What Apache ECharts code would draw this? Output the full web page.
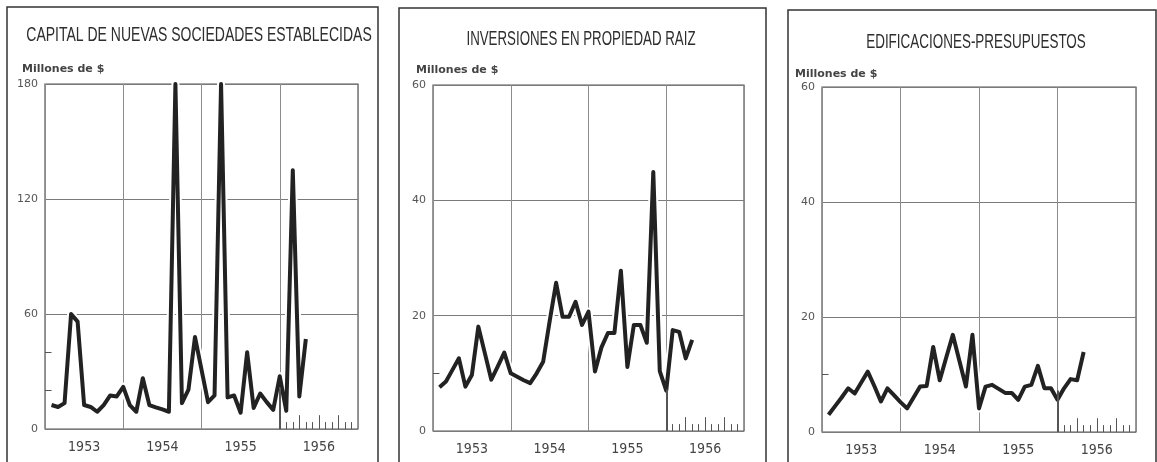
<!DOCTYPE html>
<html>
<head>
<meta charset="utf-8">
<title>Capital, inversiones y edificaciones 1953-1956</title>
<script src="https://cdn.jsdelivr.net/npm/echarts@6/dist/echarts.min.js"></script>
<style>
html, body { margin: 0; padding: 0; background: #fff; }
#chart { width: 1157px; height: 462px; }
</style>
</head>
<body>
<div id="chart"></div>
<script>
// años del eje x
const years = ['1953', '1954', '1955', '1956'];

// meses con dato (fin de mes)
const months = [
    '1953-01', '1953-02', '1953-03', '1953-04', '1953-05', '1953-06', '1953-07', '1953-08', '1953-09', '1953-10', '1953-11', '1953-12',
    '1954-01', '1954-02', '1954-03', '1954-04', '1954-05', '1954-06', '1954-07', '1954-08', '1954-09', '1954-10', '1954-11', '1954-12',
    '1955-01', '1955-02', '1955-03', '1955-04', '1955-05', '1955-06', '1955-07', '1955-08', '1955-09', '1955-10', '1955-11', '1955-12',
    '1956-01', '1956-02', '1956-03', '1956-04'
];

// Millones de $
const capital = [
    12.5, 11.5, 13.5, 60, 56, 12.5, 11.5, 9, 12.5, 17.5, 17, 22,
    12.5, 9, 26.5, 12.5, 11.3, 10.2, 9, 180, 13.5, 20.5, 48, 31,
    14, 17.5, 180, 16.5, 17.5, 8.5, 40, 11, 18.5, 14, 10, 27.5,
    9.5, 135, 17, 47
];
const inversiones = [
    7.6, 8.6, 10.6, 12.6, 7.7, 9.7, 18.1, 13.5, 8.9, 11.2, 13.6, 10.0,
    9.4, 8.8, 8.3, 10.0, 12.0, 19.0, 25.7, 19.8, 19.8, 22.4, 18.4, 20.7,
    10.3, 14.5, 17, 17, 27.8, 11.1, 18.4, 18.4, 15.3, 44.9, 10.4, 7.0,
    17.5, 17.2, 12.6, 15.8
];
const edificaciones = [
    3.0, 4.5, 6.0, 7.6, 6.7, 8.6, 10.5, 8.0, 5.3, 7.6, 6.4, 5.2,
    4.1, 6.0, 7.9, 8.0, 14.8, 9.0, 13.0, 16.9, 12.4, 7.9, 16.9, 4.1,
    7.9, 8.2, 7.5, 6.8, 6.8, 5.6, 7.9, 8.2, 11.5, 7.6, 7.6, 5.6,
    7.6, 9.2, 9.0, 13.9
];

const titles = ['CAPITAL DE NUEVAS SOCIEDADES ESTABLECIDAS', 'INVERSIONES EN PROPIEDAD RAIZ', 'EDIFICACIONES-PRESUPUESTOS'];
const yMax = [180, 60, 60];
const yStep = [60, 20, 20];
const yMinor = [[20, 40], [10], [10]];

const grids = [
    { left: 45, top: 84, width: 313, height: 345 },
    { left: 433, top: 85, width: 311, height: 346 },
    { left: 822, top: 87, width: 314, height: 345 }
];
const boxes = [[7, 7, 371], [399, 8, 367], [788, 10, 368]];
const titlePos = [[199, 35], [581, 39], [976, 42]];
const titleScale = [0.70, 0.665, 0.673];
const unitPos = [[17, 59], [411, 60], [790, 64]];

function monthPos(label) {
    const p = label.split('-').map(Number);
    return (p[0] - 1953) * 12 + p[1];
}

function tickLines(ymax, minor) {
    const out = [];
    minor.forEach(v => out.push([{ coord: [0, v] }, { coord: [1, v] }]));
    for (let m = 37; m < 48; m++) {
        const h = (m % 3 === 0 ? 0.04 : 0.02) * ymax;
        out.push([{ coord: [m, 0] }, { coord: [m, h] }]);
    }
    out.push([{ coord: [36, 0], lineStyle: { width: 2 } }, { coord: [36, ymax * 0.12] }]);
    return out;
}

const chart = echarts.init(document.getElementById('chart'));
const series = [];
const xAxis = [];
const yAxis = [];
const title = [];
const allData = [capital, inversiones, edificaciones];

allData.forEach((values, i) => {
    const pts = months.map((m, k) => [monthPos(m), values[k]]);
    xAxis.push({
        type: 'category', gridIndex: i, data: years, boundaryGap: true,
        axisLine: { show: false }, axisTick: { show: false },
        splitLine: { show: true, lineStyle: { color: '#8c8c8c', width: 1 } },
        axisLabel: { margin: 11, fontFamily: 'DejaVu Sans Condensed, Liberation Sans', fontSize: 14, color: '#444' }
    });
    xAxis.push({ type: 'value', gridIndex: i, min: 0, max: 48, show: false });
    yAxis.push({
        type: 'value', gridIndex: i, min: 0, max: yMax[i], interval: yStep[i],
        axisLine: { show: false }, axisTick: { show: false },
        splitLine: { lineStyle: { color: '#7a7a7a', width: 1 } },
        axisLabel: { margin: 7, fontFamily: 'DejaVu Sans', fontSize: 11, color: '#555' }
    });
    // halo blanco como en el impreso
    series.push({
        type: 'line', xAxisIndex: i * 2 + 1, yAxisIndex: i, data: pts,
        showSymbol: false, symbol: 'none', silent: true, z: 2,
        lineStyle: { color: '#fff', width: 8, join: 'round' }
    });
    series.push({
        type: 'line', xAxisIndex: i * 2 + 1, yAxisIndex: i, data: pts,
        showSymbol: false, symbol: 'none', z: 3,
        lineStyle: { color: '#222', width: 4, join: 'round' },
        markLine: {
            silent: true, symbol: 'none', label: { show: false },
            lineStyle: { color: '#555', width: 1, type: 'solid' },
            data: tickLines(yMax[i], yMinor[i])
        }
    });
    title.push({
        text: 'Millones de $', left: unitPos[i][0], top: unitPos[i][1],
        textStyle: { fontFamily: 'DejaVu Sans', fontSize: 11, fontWeight: 'bold', color: '#444' }
    });
});

// marcos y títulos condensados
const graphic = boxes.map(b => ({
    type: 'rect', silent: true, z: 0,
    shape: { x: b[0], y: b[1], width: b[2], height: 480 },
    style: { fill: 'none', stroke: '#333', lineWidth: 1.5 }
}));
titles.forEach((t, i) => {
    graphic.push({
        type: 'text', silent: true, x: titlePos[i][0], y: titlePos[i][1], scaleX: titleScale[i],
        style: {
            text: t, fontFamily: 'Liberation Sans', fontSize: 20, fill: '#2e2e2e',
            align: 'center', verticalAlign: 'middle'
        }
    });
});

chart.setOption({
    animation: false,
    backgroundColor: '#fff',
    title: title,
    grid: grids.map(g => Object.assign({ show: true, borderColor: '#555', borderWidth: 1.2, outerBoundsMode: 'none' }, g)),
    xAxis: xAxis,
    yAxis: yAxis,
    series: series,
    graphic: graphic
});
</script>
</body>
</html>
